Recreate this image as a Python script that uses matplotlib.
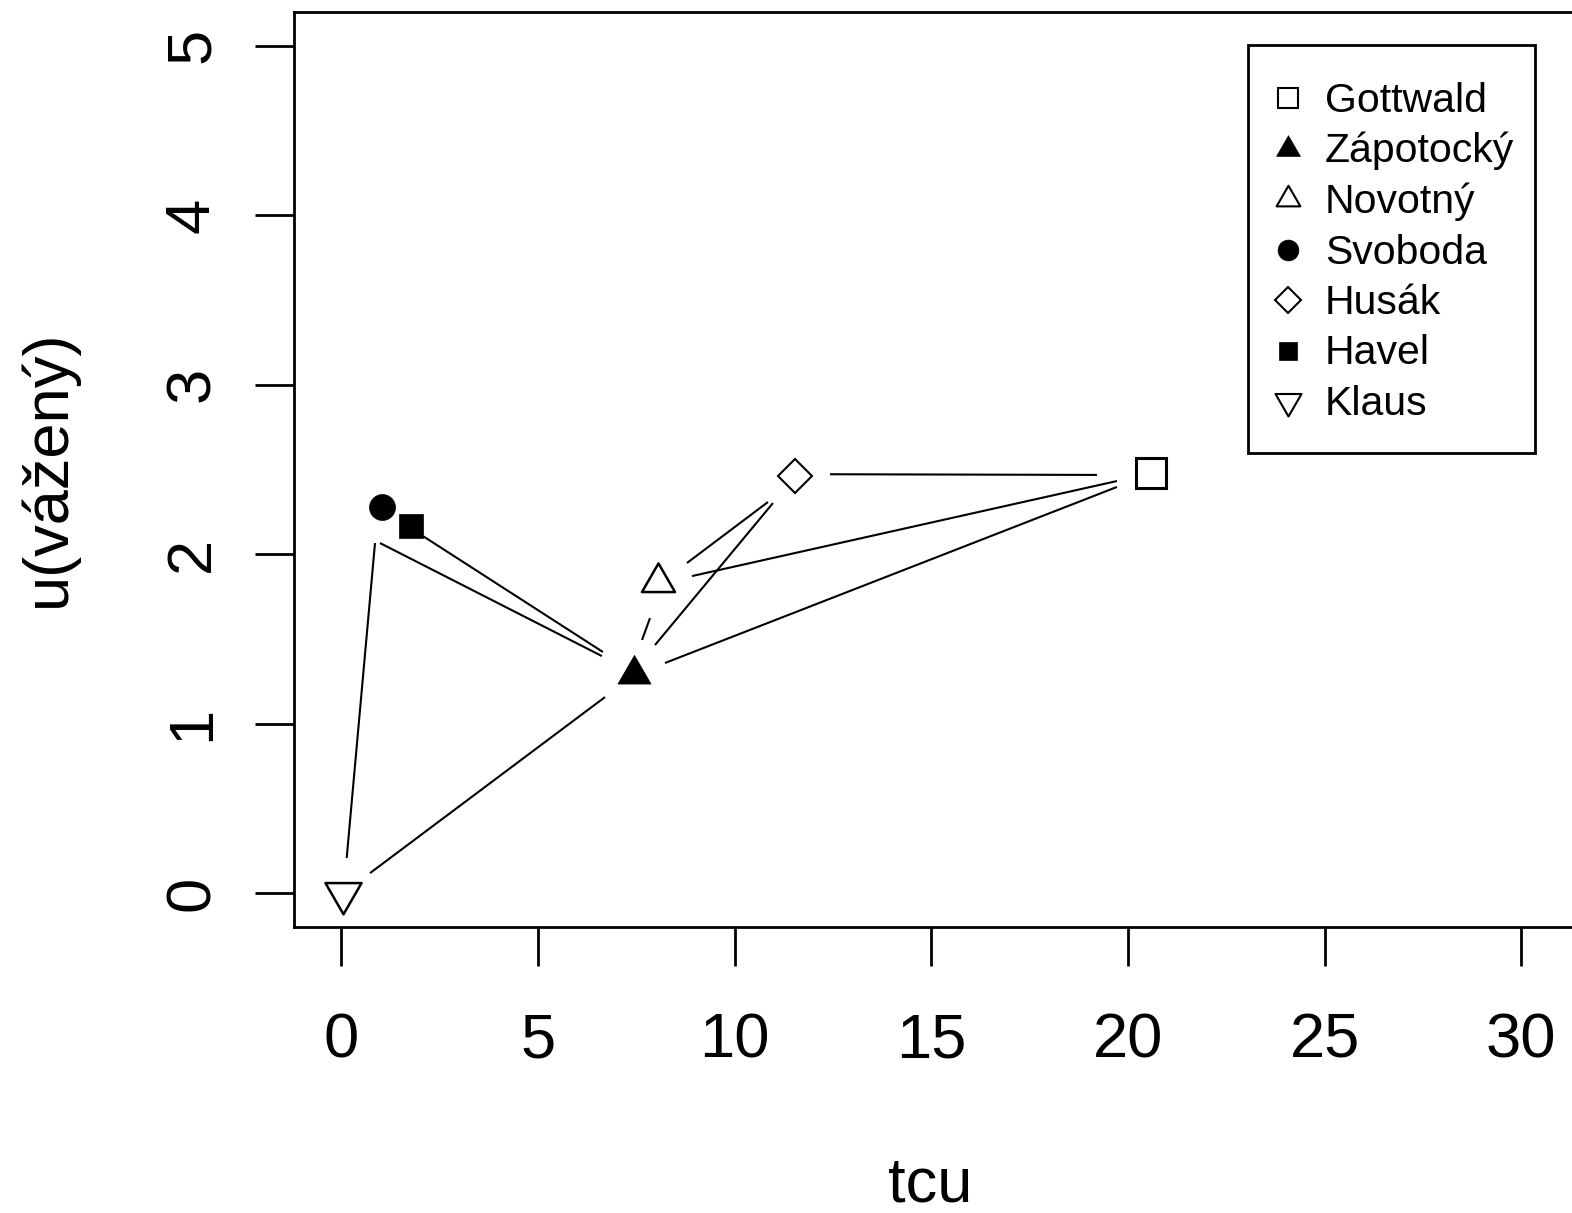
import matplotlib

matplotlib.use("Agg")
import matplotlib.pyplot as plt
from matplotlib.lines import Line2D
from matplotlib.patches import Rectangle
from matplotlib.path import Path

plt.rcParams["font.family"] = ["Liberation Sans", "DejaVu Sans"]

# presidents: position in (tcu, weighted u)
names = ["Gottwald", "Zápotocký", "Novotný", "Svoboda", "Husák", "Havel", "Klaus"]
tcu = [20.59, 7.44, 8.05, 1.03, 11.54, 1.76, 0.04]
u_w = [2.479, 1.293, 1.836, 2.280, 2.459, 2.164, 0.0]

# connecting segments (start x, start y, end x, end y)
seg_x0 = [0.137, 0.984, 2.077, 0.730, 7.646, 7.976, 8.788, 8.916, 8.230, 12.425]
seg_y0 = [0.207, 2.066, 2.107, 0.118, 1.494, 1.464, 1.948, 1.871, 1.358, 2.472]
seg_x1 = [0.857, 6.626, 6.652, 6.706, 7.849, 10.976, 10.848, 19.723, 19.723, 19.214]
seg_y1 = [2.066, 1.399, 1.423, 1.157, 1.623, 2.302, 2.308, 2.432, 2.397, 2.468]

x_ticks = [0, 5, 10, 15, 20, 25, 30]
y_ticks = [0, 1, 2, 3, 4, 5]

# R-like triangles (centred on centroid)
_tri = [(0.0, 1.555), (1.347, -0.778), (-1.347, -0.778)]
TRI_UP = Path(_tri + [_tri[0]], [Path.MOVETO, Path.LINETO, Path.LINETO, Path.CLOSEPOLY])
_tri_d = [(x, -y) for x, y in _tri]
TRI_DN = Path(_tri_d + [_tri_d[0]], [Path.MOVETO, Path.LINETO, Path.LINETO, Path.CLOSEPOLY])

styles = {
    "Gottwald": dict(marker="s", ms=20.9, mfc="white", mec="black", mew=2.2),
    "Zápotocký": dict(marker=TRI_UP, ms=27.5, mfc="black", mec="black", mew=0.5),
    "Novotný": dict(marker=TRI_UP, ms=27.5, mfc="white", mec="black", mew=1.8),
    "Svoboda": dict(marker="o", ms=18.7, mfc="black", mec="black", mew=0.5),
    "Husák": dict(marker="D", ms=17.8, mfc="white", mec="black", mew=1.5),
    "Havel": dict(marker="s", ms=17.5, mfc="black", mec="black", mew=0.5),
    "Klaus": dict(marker=TRI_DN, ms=30, mfc="white", mec="black", mew=1.8),
}

W, H = 1572, 1213
fig = plt.figure(figsize=(W / 100, H / 100), dpi=100)

px_unit = 39.33
xlim = (-1.2, 31.4)
left_px, top_px, bottom_px = 294.1, 12, 927
ax = fig.add_axes([left_px / W, 1 - bottom_px / H,
                   (xlim[1] - xlim[0]) * px_unit / W, (bottom_px - top_px) / H])
ax.set_xlim(*xlim)
ax.set_ylim(-0.2, 5.2)

for x0, y0, x1, y1 in zip(seg_x0, seg_y0, seg_x1, seg_y1):
    ax.plot([x0, x1], [y0, y1], color="black", lw=1.5, solid_capstyle="butt")

for name, x, y in zip(names, tcu, u_w):
    ax.plot([x], [y], linestyle="none", clip_on=False, **styles[name])

for sp in ax.spines.values():
    sp.set_linewidth(2)
ax.set_xticks(x_ticks)
ax.set_yticks(y_ticks)
ax.tick_params(length=28, width=2, labelsize=45.5)
ax.tick_params(axis="x", pad=33)
ax.tick_params(axis="y", pad=24)
for lab in ax.get_yticklabels():
    lab.set_rotation(90)
    lab.set_va("center")

fig.text(930 / W, 1 - 1202 / H, "tcu", fontsize=45.5, ha="center", va="baseline")
fig.text(48 / W, 1 - 468 / H, "u(vážený)", fontsize=45.5, ha="center", va="center",
         rotation=90)

# legend box drawn by hand
box_l, box_t, box_r, box_b = 1248, 45, 1535, 453
fig.add_artist(Rectangle((box_l / W, 1 - box_b / H), (box_r - box_l) / W,
                         (box_b - box_t) / H, transform=fig.transFigure,
                         facecolor="white", edgecolor="black", lw=2, zorder=5))
row0, row_step = 98, 50.5
for i, name in enumerate(names):
    yc = row0 + i * row_step
    st = dict(styles[name])
    st["ms"] = st["ms"] * (0.8 if name == "Svoboda" else 0.72)
    st["mew"] = min(st["mew"], 1.5)
    fig.add_artist(Line2D([1288 / W], [1 - yc / H], transform=fig.transFigure,
                          linestyle="none", zorder=6, **st))
    fig.text(1325 / W, 1 - (yc + 14) / H, name, fontsize=29.5, ha="left",
             va="baseline", zorder=6)

fig.savefig("out.png", dpi=100)
